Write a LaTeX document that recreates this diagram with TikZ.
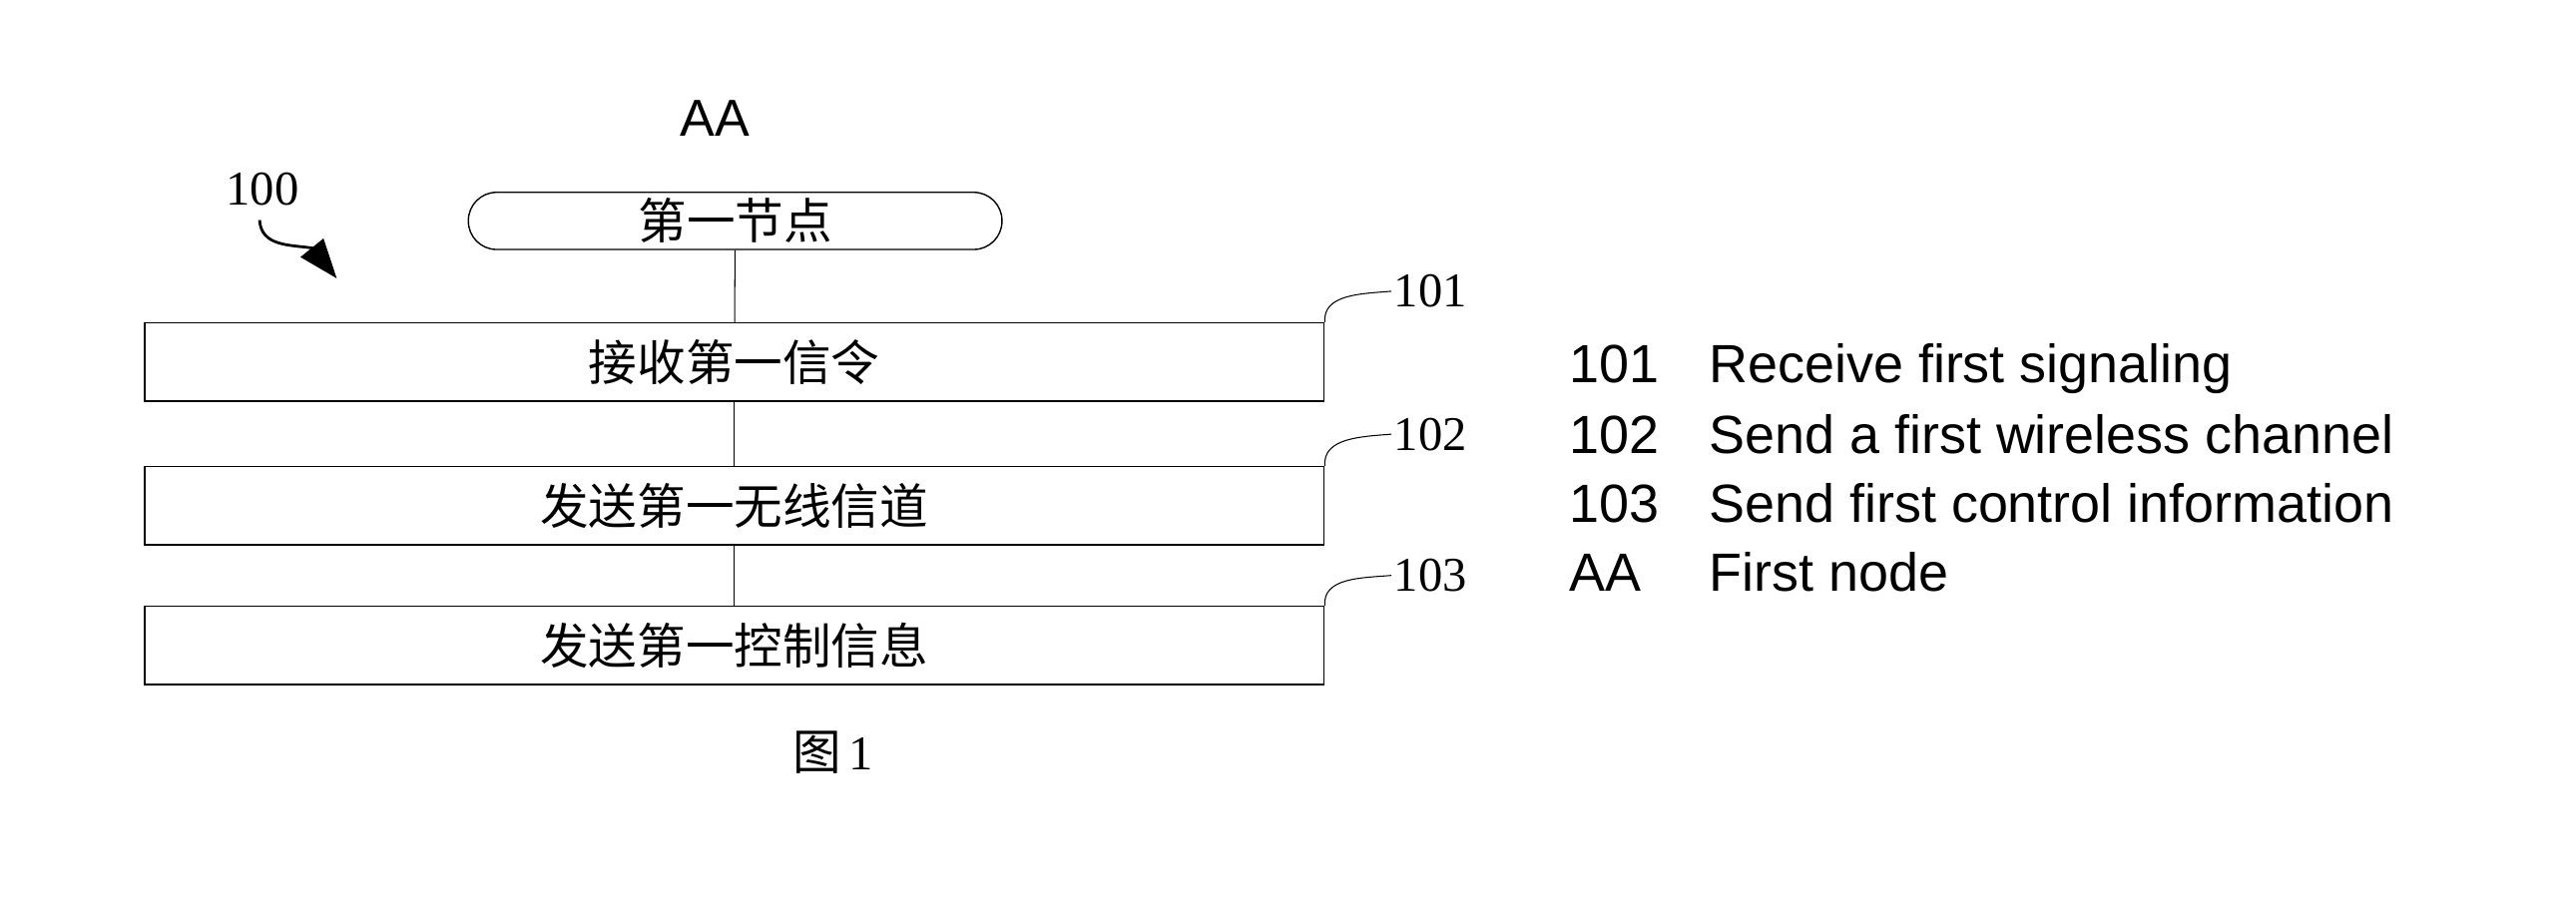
\documentclass[tikz,border=0pt]{standalone}
\usepackage{fontspec}
\setmainfont{Liberation Serif}
\newfontfamily\cjk{Noto Sans CJK SC}
\newfontfamily\legendfont{Liberation Sans}
\usetikzlibrary{arrows.meta}
\begin{document}
\begin{tikzpicture}[x=0.25mm, y=-0.25mm,
    stepbox/.style={draw, line width=0.6pt, minimum width=179.5mm, minimum height=11.9mm, inner sep=0pt,
      font=\cjk\fontsize{21}{25}\selectfont},
    nodepill/.style={draw, line width=0.6pt, rounded corners=4.3mm, minimum width=81.2mm, minimum height=8.7mm,
      inner sep=0pt, font=\cjk\fontsize{21}{25}\selectfont},
    reflabel/.style={anchor=base west, inner sep=1pt, font=\fontsize{21}{25}\selectfont},
    legend/.style={anchor=base west, inner sep=0pt, font=\legendfont\fontsize{23.3}{28}\selectfont},
    link/.style={line width=0.45pt}]
  \useasboundingbox (0,0) rectangle (1568,558);

  % title of the node
  \node[anchor=base, inner sep=0pt, font=\legendfont\fontsize{22.5}{27}\selectfont] (title) at (435,83) {AA};

  % flow of steps
  \node[nodepill] (first) at (447.5,134.5) {第一节点};
  \node[stepbox] (s101) at (447,220.5) {接收第一信令};
  \node[stepbox] (s102) at (447,308) {发送第一无线信道};
  \node[stepbox] (s103) at (447,393) {发送第一控制信息};

  \draw[link] (first) -- (s101);
  \draw[link] (s101) -- (s102);
  \draw[link] (s102) -- (s103);

  % step numbers
  \node[reflabel] (n101) at (847,187) {101};
  \node[reflabel] (n102) at (847,274) {102};
  \node[reflabel] (n103) at (847,360) {103};

  \draw[link] (s101.north east) to[out=95, in=185] (n101.west);
  \draw[link] (s102.north east) to[out=95, in=185] (n102.west);
  \draw[link] (s103.north east) to[out=95, in=185] (n103.west);

  % reference of the whole method
  \node[reflabel] (n100) at (136,125) {100};
  \coordinate (bend) at (158,134);
  \coordinate (neck) at (190,151);
  \coordinate (tip) at (205,169.5);
  \draw[line width=1.2pt, -{Triangle[length=6mm, width=4.4mm]}] (bend) .. controls (159,150) and (176,149) .. (neck) -- (tip);

  % caption
  \node[anchor=base, inner sep=0pt, font=\fontsize{21}{25}\selectfont] (fig) at (507,469) {{\cjk 图}\,1};

  % legend
  \foreach \num/\txt/\yy in {101/Receive first signaling/233,
      102/Send a first wireless channel/276,
      103/Send first control information/318,
      AA/First node/360} {
    \node[legend] (key\num) at (955,\yy) {\num};
    \node[legend] (txt\num) at (1040,\yy) {\txt};
  }
\end{tikzpicture}
\end{document}
